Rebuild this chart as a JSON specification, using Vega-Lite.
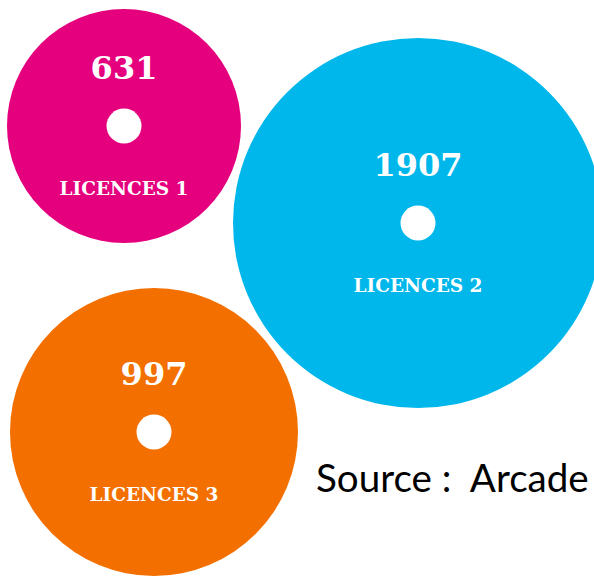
{
  "$schema": "https://vega.github.io/schema/vega-lite/v6.json",
  "width": 594,
  "height": 577,
  "autosize": "none",
  "padding": 0,
  "background": "white",
  "config": {"view": {"stroke": null}},
  "title": {
    "text": "Source :\u00a0 Arcade",
    "orient": "bottom",
    "anchor": "start",
    "frame": "group",
    "offset": 0,
    "dx": 316,
    "dy": -85,
    "baseline": "alphabetic",
    "font": "Lato",
    "fontSize": 38.6,
    "fontWeight": "normal",
    "color": "#000000"
  },
  "data": {
    "values": [
      {"label": "LICENCES 1", "value": 631},
      {"label": "LICENCES 2", "value": 1907},
      {"label": "LICENCES 3", "value": 997}
    ]
  },
  "encoding": {
    "x": {"field": "value", "type": "quantitative", "axis": null,
          "scale": {"domain": [631, 997, 1907], "range": [124, 154, 418], "zero": false, "nice": false}},
    "y": {"field": "value", "type": "quantitative", "axis": null,
          "scale": {"domain": [631, 997, 1907], "range": [126, 432, 223], "zero": false, "nice": false}}
  },
  "layer": [
    {
      "mark": {"type": "circle", "opacity": 1, "strokeWidth": 0},
      "encoding": {
        "size": {"field": "value", "type": "quantitative", "legend": null,
                 "scale": {"domain": [631, 997, 1907], "range": [54756, 82944, 136900], "zero": false, "nice": false}},
        "color": {"field": "label", "type": "nominal", "legend": null,
                  "scale": {"domain": ["LICENCES 1", "LICENCES 2", "LICENCES 3"], "range": ["#E5007E", "#00B7EB", "#F37000"]}}
      }
    },
    {
      "mark": {"type": "circle", "opacity": 1, "color": "white", "size": 1225}
    },
    {
      "mark": {"type": "text", "dy": -57, "font": "DejaVu Serif", "fontWeight": "bold", "fontSize": 32, "color": "white", "baseline": "middle", "align": "center"},
      "encoding": {"text": {"field": "value", "type": "quantitative", "format": "d"}}
    },
    {
      "mark": {"type": "text", "dy": 63, "font": "DejaVu Serif", "fontWeight": "bold", "fontSize": 18.5, "color": "white", "baseline": "middle", "align": "center"},
      "encoding": {"text": {"field": "label", "type": "nominal"}}
    }
  ]
}
